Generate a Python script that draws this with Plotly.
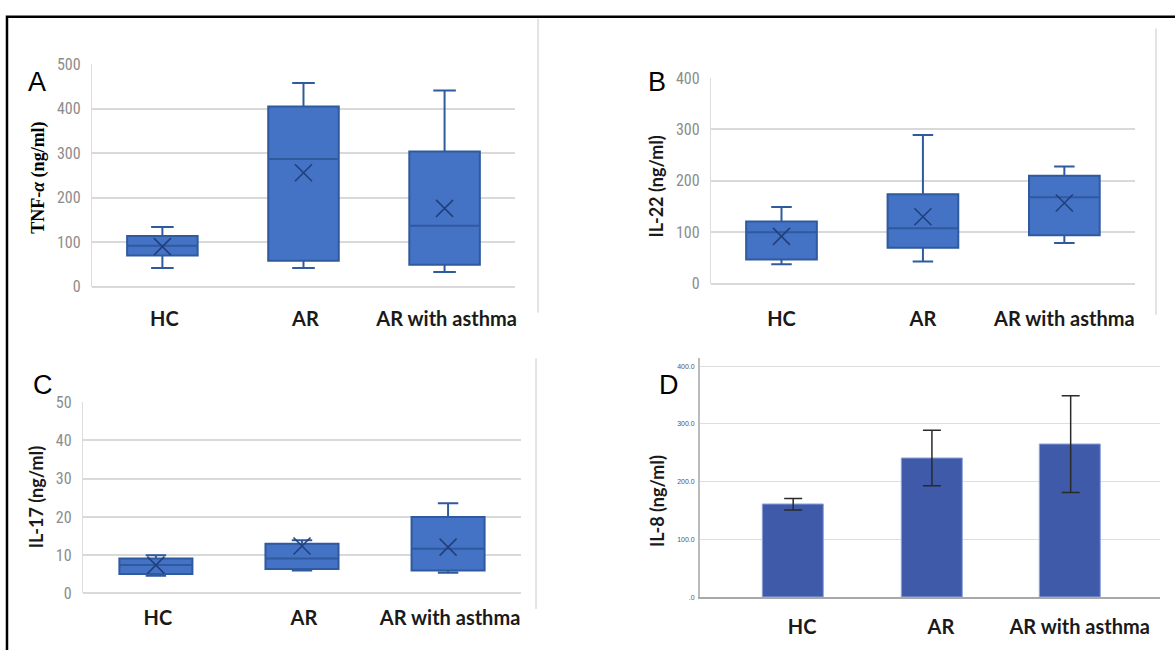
import plotly.graph_objects as go

W, H = 1175, 650

categories = ["HC", "AR", "AR with asthma"]

# Panel A: TNF-alpha box stats
a_low = [42, 42, 33]
a_q1 = [70, 58, 49]
a_med = [92, 287, 137]
a_q3 = [114, 405, 304]
a_high = [134, 458, 441]
a_mean = [90, 256, 176]

# Panel B: IL-22 box stats
b_low = [38, 43, 79]
b_q1 = [47, 70, 94]
b_med = [100, 108, 168]
b_q3 = [121, 174, 210]
b_high = [149, 289, 228]
b_mean = [92, 130, 157]

# Panel C: IL-17 box stats
c_low = [4.6, 6.0, 5.4]
c_q1 = [5.1, 6.4, 6.0]
c_med = [7.4, 9.1, 11.7]
c_q3 = [9.1, 13.0, 20.0]
c_high = [10.0, 13.9, 23.6]
c_mean = [7.4, 12.4, 12.1]

# Panel D: IL-8 bar means with error bars
d_mean = [160, 241, 265]
d_err_plus = [11, 48, 84]
d_err_minus = [9, 48, 83.5]
d_tickvals = [0, 100, 200, 300, 400]
d_ticktext = [".0", "100.0", "200.0", "300.0", "400.0"]


def px(x):
    return x / W


def py(y):
    return 1 - y / H


BOX_FILL = "#4472C4"
BOX_LINE = "#2F5A9E"
GRID = "#D9D9D9"
TICKFONT = dict(family="Roboto Condensed, DejaVu Sans Condensed, Liberation Sans Narrow, Arial Narrow, Roboto",
                size=16, color="#8C8C8C")
CATFONT = dict(family="Lato, Open Sans, sans-serif", size=20, color="#1A1A1A", weight="bold")

fig = go.Figure()

panels = [
    ("x", "y", a_low, a_q1, a_med, a_q3, a_high, a_mean, 0.32),
    ("x2", "y2", b_low, b_q1, b_med, b_q3, b_high, b_mean, 0.29),
    ("x3", "y3", c_low, c_q1, c_med, c_q3, c_high, c_mean, 0.28),
]
for xa, ya, lo, q1, med, q3, hi, mean, ww in panels:
    fig.add_trace(go.Box(
        x=categories, q1=q1, median=med, q3=q3, lowerfence=lo, upperfence=hi,
        xaxis=xa, yaxis=ya, width=0.5, whiskerwidth=ww,
        fillcolor=BOX_FILL, line=dict(color=BOX_LINE, width=2),
        boxpoints=False, showlegend=False, hoverinfo="skip",
    ))
    fig.add_trace(go.Scatter(
        x=categories, y=mean, xaxis=xa, yaxis=ya, mode="markers",
        marker=dict(symbol="x-thin", size=17, line=dict(color="#1F3F7A", width=1.5)),
        showlegend=False, hoverinfo="skip",
    ))

fig.add_trace(go.Bar(
    x=categories, y=d_mean, xaxis="x4", yaxis="y4", width=0.44,
    marker=dict(color="#3F5AA9", line=dict(color="#8FA3DA", width=1)),
    error_y=dict(type="data", symmetric=False, array=d_err_plus, arrayminus=d_err_minus,
                 color="#2A2A2A", thickness=1.5, width=9),
    showlegend=False, hoverinfo="skip",
))

common_y = dict(showgrid=True, gridcolor=GRID, gridwidth=2, zeroline=True, zerolinecolor=GRID,
                zerolinewidth=2, showline=True, linecolor="#DDDDDD", linewidth=1,
                tickfont=TICKFONT, ticks="", ticklabelstandoff=7, fixedrange=True)
common_x = dict(type="category", showgrid=False, zeroline=False, showline=False, ticks="",
                tickfont=CATFONT, fixedrange=True)

fig.update_layout(
    width=W, height=H, margin=dict(l=0, r=0, t=0, b=0),
    paper_bgcolor="white", plot_bgcolor="white",
    bargap=0,
    xaxis=dict(domain=[px(92), px(516)], anchor="y", range=[-0.5, 2.5], ticklabelstandoff=18,
               ticklabelshift=2, **common_x),
    yaxis=dict(domain=[py(286), py(57)], anchor="x", range=[0, 500], dtick=100, **common_y),
    xaxis2=dict(domain=[px(712), px(1137)], anchor="y2", range=[-0.5, 2.5], ticklabelstandoff=21, **common_x),
    yaxis2=dict(domain=[py(283), py(71)], anchor="x2", range=[0, 400], dtick=100, **common_y),
    xaxis3=dict(domain=[px(83), px(522)], anchor="y3", range=[-0.5, 2.5], ticklabelstandoff=11,
                ticklabelshift=2, **common_x),
    yaxis3=dict(domain=[py(602), py(405)], anchor="x3", range=[0, 50], dtick=10, **common_y),
    xaxis4=dict(domain=[px(701), px(1162)], anchor="y4", range=[-0.673, 2.644], ticklabelstandoff=11,
                ticklabelshift=9, type="category", showgrid=False, zeroline=False, showline=True,
                linecolor="#A8A8A8", linewidth=2, ticks="",
                tickfont=dict(family="Lato, Open Sans, sans-serif", size=20, color="#1A1A1A", weight="bold"),
                fixedrange=True),
    yaxis4=dict(domain=[py(606), py(360)], anchor="x4", range=[0, 413.4], tickvals=d_tickvals,
                ticktext=d_ticktext, showgrid=True, gridcolor="#DEDEDE", gridwidth=1, zeroline=False,
                showline=True, linecolor="#BBBBBB", linewidth=1.5, ticks="", ticklabelstandoff=2,
                tickfont=dict(family="Liberation Sans, Arial", size=7, color="#555555"), fixedrange=True),
)

annotations = [
    dict(text="A", x=px(37), y=py(75)),
    dict(text="B", x=px(658), y=py(75)),
    dict(text="C", x=px(43), y=py(387)),
    dict(text="D", x=px(670), y=py(387)),
]
anns = []
for a in annotations:
    anns.append(dict(xref="paper", yref="paper", x=a["x"], y=a["y"], text=a["text"], showarrow=False,
                     xanchor="center", yanchor="middle",
                     font=dict(family="Liberation Sans, Arial", size=27, color="black")))

ylabels = [
    ("TNF-<i>α</i> (ng/ml)", 39, 174, dict(family="Liberation Serif, Times New Roman", size=18, color="black", weight="bold")),
    ("IL-22 (ng/ml)", 657, 183, dict(family="Lato, Open Sans, sans-serif", size=18, color="#1A1A1A", weight="bold")),
    ("IL-17 (ng/ml)", 36, 503, dict(family="Lato, Open Sans, sans-serif", size=18, color="#1A1A1A", weight="bold")),
    ("IL-8 (ng/ml)", 658, 507, dict(family="Lato, Open Sans, sans-serif", size=18, color="#1A1A1A", weight="bold")),
]
for t, x, y, f in ylabels:
    anns.append(dict(xref="paper", yref="paper", x=px(x), y=py(y), text=t, showarrow=False,
                     textangle=-90, xanchor="center", yanchor="middle", font=f))
fig.update_layout(annotations=anns)

shapes = [
    dict(type="rect", xref="paper", yref="paper", x0=px(7), x1=1.05, y0=-0.05, y1=py(8),
         line=dict(color="black", width=2.5), fillcolor="rgba(0,0,0,0)", layer="above"),
    dict(type="line", xref="paper", yref="paper", x0=px(539), x1=px(539), y0=py(10), y1=py(313),
         line=dict(color="#E3E3E3", width=2)),
    dict(type="line", xref="paper", yref="paper", x0=px(1158), x1=px(1158), y0=py(20), y1=py(315),
         line=dict(color="#E3E3E3", width=2)),
    dict(type="line", xref="paper", yref="paper", x0=px(537), x1=px(537), y0=py(360), y1=py(618),
         line=dict(color="#E3E3E3", width=2)),
]
fig.update_layout(shapes=shapes)

fig.write_html("out.html")
